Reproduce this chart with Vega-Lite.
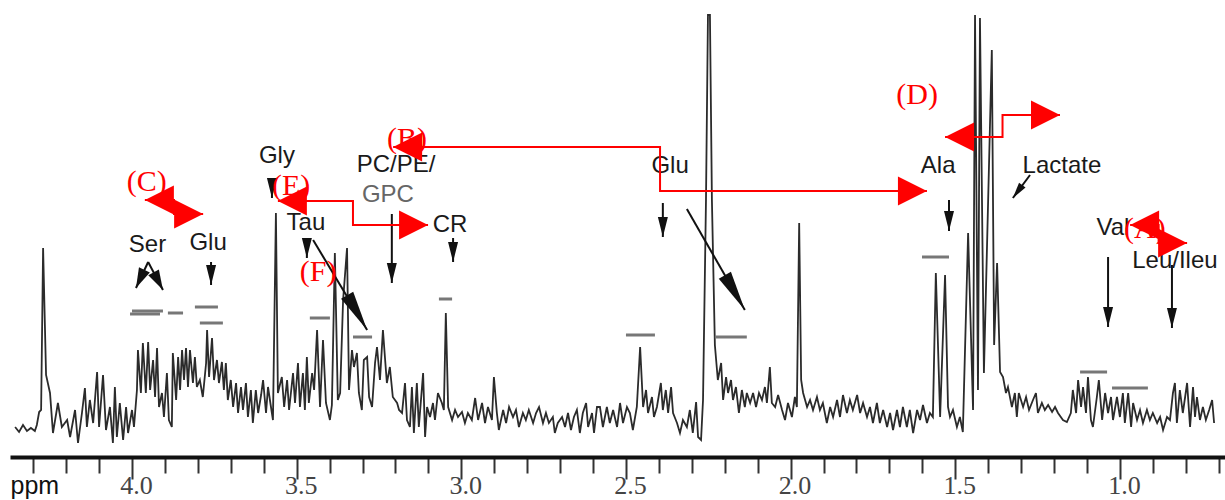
{
"$schema": "https://vega.github.io/schema/vega-lite/v6.json",
"width": 1215, "height": 455,
"autosize": {"type": "none"},
"padding": {"left": 10, "top": 0, "right": 0, "bottom": 45},
"background": "white",
"config": {"view": {"stroke": null}, "font": "Liberation Sans"},
"datasets": {
"spectrum": [
{"ppm":4.355,"intensity":28},{"ppm":4.343,"intensity":23},{"ppm":4.331,"intensity":30},{"ppm":4.319,"intensity":24},{"ppm":4.307,"intensity":27},{"ppm":4.295,"intensity":24},{"ppm":4.289,"intensity":30},{"ppm":4.282,"intensity":43},{"ppm":4.276,"intensity":45},{"ppm":4.270,"intensity":207},{"ppm":4.261,"intensity":80},{"ppm":4.249,"intensity":62},{"ppm":4.240,"intensity":22},{"ppm":4.225,"intensity":52},{"ppm":4.213,"intensity":28},{"ppm":4.197,"intensity":35},{"ppm":4.188,"intensity":18},{"ppm":4.173,"intensity":45},{"ppm":4.164,"intensity":12},{"ppm":4.152,"intensity":42},{"ppm":4.143,"intensity":67},{"ppm":4.137,"intensity":28},{"ppm":4.128,"intensity":55},{"ppm":4.118,"intensity":32},{"ppm":4.106,"intensity":83},{"ppm":4.100,"intensity":28},
{"ppm":4.088,"intensity":80},{"ppm":4.079,"intensity":25},{"ppm":4.067,"intensity":48},{"ppm":4.058,"intensity":12},{"ppm":4.052,"intensity":68},{"ppm":4.046,"intensity":18},{"ppm":4.037,"intensity":52},{"ppm":4.027,"intensity":15},{"ppm":4.018,"intensity":48},{"ppm":4.012,"intensity":22},{"ppm":4.000,"intensity":45},{"ppm":3.994,"intensity":28},{"ppm":3.985,"intensity":65},{"ppm":3.982,"intensity":105},{"ppm":3.973,"intensity":62},{"ppm":3.967,"intensity":112},{"ppm":3.958,"intensity":62},{"ppm":3.951,"intensity":113},{"ppm":3.945,"intensity":65},{"ppm":3.936,"intensity":95},{"ppm":3.930,"intensity":58},{"ppm":3.924,"intensity":107},{"ppm":3.918,"intensity":48},{"ppm":3.909,"intensity":62},{"ppm":3.903,"intensity":38},{"ppm":3.894,"intensity":82},{"ppm":3.888,"intensity":35},{"ppm":3.879,"intensity":28},{"ppm":3.876,"intensity":102},{"ppm":3.866,"intensity":55},{"ppm":3.860,"intensity":98},{"ppm":3.854,"intensity":65},{"ppm":3.848,"intensity":105},{"ppm":3.842,"intensity":75},{"ppm":3.836,"intensity":107},{"ppm":3.830,"intensity":68},{"ppm":3.824,"intensity":105},{"ppm":3.815,"intensity":72},{"ppm":3.809,"intensity":98},{"ppm":3.803,"intensity":68},
{"ppm":3.794,"intensity":75},{"ppm":3.785,"intensity":58},{"ppm":3.775,"intensity":92},{"ppm":3.772,"intensity":125},{"ppm":3.766,"intensity":78},{"ppm":3.757,"intensity":117},{"ppm":3.751,"intensity":75},{"ppm":3.742,"intensity":95},{"ppm":3.736,"intensity":72},{"ppm":3.727,"intensity":93},{"ppm":3.721,"intensity":65},{"ppm":3.715,"intensity":92},{"ppm":3.709,"intensity":55},{"ppm":3.700,"intensity":75},{"ppm":3.693,"intensity":48},{"ppm":3.684,"intensity":72},{"ppm":3.678,"intensity":42},{"ppm":3.669,"intensity":68},{"ppm":3.663,"intensity":45},{"ppm":3.654,"intensity":72},{"ppm":3.648,"intensity":38},{"ppm":3.639,"intensity":65},{"ppm":3.633,"intensity":32},{"ppm":3.624,"intensity":65},{"ppm":3.617,"intensity":42},{"ppm":3.608,"intensity":60},{"ppm":3.602,"intensity":75},{"ppm":3.593,"intensity":42},{"ppm":3.587,"intensity":68},{"ppm":3.578,"intensity":48},{"ppm":3.572,"intensity":35},{"ppm":3.563,"intensity":242},{"ppm":3.557,"intensity":62},{"ppm":3.545,"intensity":78},{"ppm":3.538,"intensity":48},{"ppm":3.529,"intensity":75},{"ppm":3.523,"intensity":45},{"ppm":3.511,"intensity":82},{"ppm":3.505,"intensity":52},{"ppm":3.496,"intensity":92},
{"ppm":3.490,"intensity":48},{"ppm":3.481,"intensity":82},{"ppm":3.475,"intensity":45},{"ppm":3.469,"intensity":98},{"ppm":3.463,"intensity":52},{"ppm":3.453,"intensity":82},{"ppm":3.447,"intensity":65},{"ppm":3.438,"intensity":125},{"ppm":3.429,"intensity":48},{"ppm":3.420,"intensity":115},{"ppm":3.411,"intensity":52},{"ppm":3.399,"intensity":35},{"ppm":3.393,"intensity":50},{"ppm":3.384,"intensity":202},{"ppm":3.375,"intensity":55},{"ppm":3.368,"intensity":62},{"ppm":3.359,"intensity":155},{"ppm":3.347,"intensity":207},{"ppm":3.341,"intensity":65},{"ppm":3.332,"intensity":105},{"ppm":3.326,"intensity":88},{"ppm":3.317,"intensity":102},{"ppm":3.311,"intensity":62},{"ppm":3.302,"intensity":45},{"ppm":3.296,"intensity":95},{"ppm":3.286,"intensity":98},{"ppm":3.280,"intensity":58},{"ppm":3.271,"intensity":48},{"ppm":3.262,"intensity":92},{"ppm":3.256,"intensity":108},{"ppm":3.247,"intensity":75},{"ppm":3.238,"intensity":125},{"ppm":3.232,"intensity":98},{"ppm":3.226,"intensity":72},{"ppm":3.217,"intensity":88},{"ppm":3.208,"intensity":58},{"ppm":3.195,"intensity":52},{"ppm":3.189,"intensity":45},
{"ppm":3.180,"intensity":42},{"ppm":3.171,"intensity":72},{"ppm":3.165,"intensity":35},{"ppm":3.156,"intensity":28},{"ppm":3.150,"intensity":68},{"ppm":3.144,"intensity":22},{"ppm":3.135,"intensity":72},{"ppm":3.129,"intensity":28},{"ppm":3.116,"intensity":82},{"ppm":3.110,"intensity":18},{"ppm":3.104,"intensity":48},{"ppm":3.095,"intensity":38},{"ppm":3.086,"intensity":52},{"ppm":3.080,"intensity":35},{"ppm":3.071,"intensity":62},{"ppm":3.059,"intensity":52},{"ppm":3.053,"intensity":45},{"ppm":3.047,"intensity":142},{"ppm":3.040,"intensity":48},{"ppm":3.028,"intensity":35},{"ppm":3.019,"intensity":45},{"ppm":3.010,"intensity":38},{"ppm":2.998,"intensity":43},{"ppm":2.989,"intensity":32},{"ppm":2.980,"intensity":42},{"ppm":2.968,"intensity":35},{"ppm":2.958,"intensity":57},{"ppm":2.949,"intensity":35},{"ppm":2.937,"intensity":52},{"ppm":2.928,"intensity":32},{"ppm":2.919,"intensity":48},{"ppm":2.907,"intensity":35},{"ppm":2.901,"intensity":78},{"ppm":2.892,"intensity":42},{"ppm":2.886,"intensity":25},
{"ppm":2.873,"intensity":45},{"ppm":2.864,"intensity":32},{"ppm":2.855,"intensity":48},{"ppm":2.843,"intensity":38},{"ppm":2.834,"intensity":45},{"ppm":2.825,"intensity":28},{"ppm":2.813,"intensity":42},{"ppm":2.804,"intensity":35},{"ppm":2.795,"intensity":45},{"ppm":2.782,"intensity":32},{"ppm":2.773,"intensity":42},{"ppm":2.764,"intensity":48},{"ppm":2.752,"intensity":32},{"ppm":2.743,"intensity":42},{"ppm":2.734,"intensity":32},{"ppm":2.722,"intensity":38},{"ppm":2.716,"intensity":22},{"ppm":2.707,"intensity":32},{"ppm":2.694,"intensity":38},{"ppm":2.685,"intensity":28},{"ppm":2.676,"intensity":42},{"ppm":2.667,"intensity":25},{"ppm":2.658,"intensity":38},{"ppm":2.649,"intensity":45},{"ppm":2.640,"intensity":22},{"ppm":2.631,"intensity":42},{"ppm":2.621,"intensity":52},{"ppm":2.615,"intensity":28},{"ppm":2.603,"intensity":42},{"ppm":2.597,"intensity":22},{"ppm":2.588,"intensity":48},
{"ppm":2.579,"intensity":48},{"ppm":2.570,"intensity":28},{"ppm":2.558,"intensity":48},{"ppm":2.549,"intensity":32},{"ppm":2.539,"intensity":45},{"ppm":2.527,"intensity":28},{"ppm":2.518,"intensity":52},{"ppm":2.509,"intensity":32},{"ppm":2.497,"intensity":48},{"ppm":2.488,"intensity":42},{"ppm":2.479,"intensity":25},{"ppm":2.467,"intensity":48},{"ppm":2.457,"intensity":108},{"ppm":2.448,"intensity":48},{"ppm":2.439,"intensity":65},{"ppm":2.433,"intensity":42},{"ppm":2.421,"intensity":58},{"ppm":2.415,"intensity":38},{"ppm":2.406,"intensity":48},{"ppm":2.394,"intensity":72},{"ppm":2.388,"intensity":45},{"ppm":2.379,"intensity":65},{"ppm":2.372,"intensity":42},{"ppm":2.363,"intensity":68},{"ppm":2.357,"intensity":42},{"ppm":2.345,"intensity":32},{"ppm":2.336,"intensity":22},{"ppm":2.327,"intensity":35},{"ppm":2.315,"intensity":28},{"ppm":2.306,"intensity":45},{"ppm":2.297,"intensity":22},{"ppm":2.287,"intensity":53},{"ppm":2.281,"intensity":18},
{"ppm":2.272,"intensity":15},{"ppm":2.266,"intensity":55},{"ppm":2.257,"intensity":255},{"ppm":2.251,"intensity":440},{"ppm":2.245,"intensity":440},{"ppm":2.239,"intensity":255},{"ppm":2.230,"intensity":110},{"ppm":2.221,"intensity":75},{"ppm":2.211,"intensity":92},{"ppm":2.205,"intensity":55},{"ppm":2.196,"intensity":78},{"ppm":2.190,"intensity":62},{"ppm":2.181,"intensity":75},{"ppm":2.175,"intensity":55},{"ppm":2.166,"intensity":68},{"ppm":2.157,"intensity":42},{"ppm":2.148,"intensity":65},{"ppm":2.139,"intensity":48},{"ppm":2.133,"intensity":62},{"ppm":2.123,"intensity":52},{"ppm":2.114,"intensity":62},{"ppm":2.105,"intensity":48},{"ppm":2.096,"intensity":62},{"ppm":2.087,"intensity":55},{"ppm":2.078,"intensity":68},{"ppm":2.072,"intensity":52},{"ppm":2.063,"intensity":88},{"ppm":2.057,"intensity":52},{"ppm":2.047,"intensity":48},{"ppm":2.038,"intensity":60},{"ppm":2.026,"intensity":45},{"ppm":2.017,"intensity":35},{"ppm":2.008,"intensity":52},{"ppm":1.996,"intensity":38},{"ppm":1.987,"intensity":58},{"ppm":1.981,"intensity":48},
{"ppm":1.974,"intensity":232},{"ppm":1.968,"intensity":75},{"ppm":1.962,"intensity":62},{"ppm":1.950,"intensity":48},{"ppm":1.941,"intensity":55},{"ppm":1.932,"intensity":45},{"ppm":1.920,"intensity":58},{"ppm":1.911,"intensity":45},{"ppm":1.902,"intensity":52},{"ppm":1.890,"intensity":32},{"ppm":1.880,"intensity":48},{"ppm":1.871,"intensity":38},{"ppm":1.859,"intensity":55},{"ppm":1.850,"intensity":38},{"ppm":1.841,"intensity":60},{"ppm":1.829,"intensity":42},{"ppm":1.820,"intensity":55},{"ppm":1.811,"intensity":45},{"ppm":1.798,"intensity":60},{"ppm":1.789,"intensity":42},{"ppm":1.780,"intensity":52},{"ppm":1.768,"intensity":38},{"ppm":1.759,"intensity":48},{"ppm":1.750,"intensity":32},{"ppm":1.738,"intensity":52},{"ppm":1.729,"intensity":32},{"ppm":1.719,"intensity":45},{"ppm":1.707,"intensity":28},{"ppm":1.698,"intensity":42},{"ppm":1.689,"intensity":25},{"ppm":1.677,"intensity":45},
{"ppm":1.668,"intensity":28},{"ppm":1.659,"intensity":48},{"ppm":1.647,"intensity":28},{"ppm":1.638,"intensity":45},{"ppm":1.628,"intensity":22},{"ppm":1.616,"intensity":45},{"ppm":1.607,"intensity":35},{"ppm":1.598,"intensity":50},{"ppm":1.586,"intensity":32},{"ppm":1.577,"intensity":42},{"ppm":1.568,"intensity":38},{"ppm":1.559,"intensity":182},{"ppm":1.546,"intensity":38},{"ppm":1.531,"intensity":180},{"ppm":1.522,"intensity":48},{"ppm":1.516,"intensity":38},{"ppm":1.507,"intensity":45},{"ppm":1.495,"intensity":28},{"ppm":1.486,"intensity":38},{"ppm":1.477,"intensity":23},{"ppm":1.461,"intensity":222},{"ppm":1.446,"intensity":45},{"ppm":1.440,"intensity":440},{"ppm":1.431,"intensity":65},{"ppm":1.425,"intensity":437},{"ppm":1.413,"intensity":82},{"ppm":1.389,"intensity":405},{"ppm":1.382,"intensity":110},{"ppm":1.373,"intensity":192},
{"ppm":1.364,"intensity":83},{"ppm":1.355,"intensity":78},{"ppm":1.346,"intensity":62},{"ppm":1.340,"intensity":68},{"ppm":1.328,"intensity":48},{"ppm":1.319,"intensity":62},{"ppm":1.313,"intensity":38},{"ppm":1.307,"intensity":62},{"ppm":1.294,"intensity":48},{"ppm":1.285,"intensity":58},{"ppm":1.276,"intensity":45},{"ppm":1.264,"intensity":55},{"ppm":1.255,"intensity":62},{"ppm":1.249,"intensity":42},{"ppm":1.237,"intensity":52},{"ppm":1.228,"intensity":45},{"ppm":1.218,"intensity":50},{"ppm":1.206,"intensity":43},{"ppm":1.197,"intensity":48},{"ppm":1.188,"intensity":42},{"ppm":1.173,"intensity":35},{"ppm":1.161,"intensity":33},{"ppm":1.149,"intensity":42},{"ppm":1.143,"intensity":65},{"ppm":1.133,"intensity":42},{"ppm":1.127,"intensity":75},{"ppm":1.118,"intensity":48},{"ppm":1.112,"intensity":68},{"ppm":1.103,"intensity":42},{"ppm":1.097,"intensity":78},{"ppm":1.088,"intensity":35},{"ppm":1.082,"intensity":28},{"ppm":1.070,"intensity":58},{"ppm":1.064,"intensity":75},
{"ppm":1.054,"intensity":35},{"ppm":1.045,"intensity":62},{"ppm":1.036,"intensity":42},{"ppm":1.027,"intensity":58},{"ppm":1.021,"intensity":35},{"ppm":1.009,"intensity":58},{"ppm":1.000,"intensity":38},{"ppm":0.991,"intensity":62},{"ppm":0.985,"intensity":32},{"ppm":0.975,"intensity":62},{"ppm":0.966,"intensity":28},{"ppm":0.960,"intensity":52},{"ppm":0.948,"intensity":35},{"ppm":0.939,"intensity":45},{"ppm":0.930,"intensity":32},{"ppm":0.918,"intensity":45},{"ppm":0.909,"intensity":35},{"ppm":0.900,"intensity":42},{"ppm":0.887,"intensity":32},{"ppm":0.878,"intensity":38},{"ppm":0.869,"intensity":25},{"ppm":0.857,"intensity":38},{"ppm":0.848,"intensity":35},{"ppm":0.839,"intensity":62},{"ppm":0.833,"intensity":72},{"ppm":0.827,"intensity":32},{"ppm":0.818,"intensity":65},{"ppm":0.809,"intensity":42},{"ppm":0.802,"intensity":58},{"ppm":0.796,"intensity":72},{"ppm":0.787,"intensity":28},{"ppm":0.778,"intensity":68},{"ppm":0.772,"intensity":38},{"ppm":0.766,"intensity":58},{"ppm":0.757,"intensity":35},{"ppm":0.748,"intensity":48},{"ppm":0.739,"intensity":35},{"ppm":0.729,"intensity":45},{"ppm":0.720,"intensity":55},{"ppm":0.714,"intensity":32}
],
"dashes": [
{"ppm":4.000,"ppm_end":3.906,"intensity":144},{"ppm":4.006,"ppm_end":3.915,"intensity":141},{"ppm":3.891,"ppm_end":3.845,"intensity":142},{"ppm":3.809,"ppm_end":3.739,"intensity":148},{"ppm":3.794,"ppm_end":3.724,"intensity":132},{"ppm":3.460,"ppm_end":3.399,"intensity":137},{"ppm":3.329,"ppm_end":3.271,"intensity":118},{"ppm":3.068,"ppm_end":3.028,"intensity":156},{"ppm":2.500,"ppm_end":2.412,"intensity":120},{"ppm":2.230,"ppm_end":2.133,"intensity":118},{"ppm":1.601,"ppm_end":1.519,"intensity":198},{"ppm":1.121,"ppm_end":1.039,"intensity":83},{"ppm":1.024,"ppm_end":0.915,"intensity":67}
],
"arrows": [
{"name":"SerL","ppm":3.988,"intensity":167,"ppm_tail":3.951,"intensity_tail":193},
{"name":"SerR","ppm":3.906,"intensity":165,"ppm_tail":3.951,"intensity_tail":193},
{"name":"GluL","ppm":3.760,"intensity":170,"ppm_tail":3.760,"intensity_tail":193},
{"name":"Gly","ppm":3.575,"intensity":257,"ppm_tail":3.575,"intensity_tail":277},
{"name":"TauS","ppm":3.469,"intensity":197,"ppm_tail":3.469,"intensity_tail":213},
{"name":"TauD","ppm":3.286,"intensity":125,"ppm_tail":3.450,"intensity_tail":215},
{"name":"PC","ppm":3.211,"intensity":172,"ppm_tail":3.211,"intensity_tail":241},
{"name":"CR","ppm":3.025,"intensity":193,"ppm_tail":3.025,"intensity_tail":217},
{"name":"GluM","ppm":2.388,"intensity":218,"ppm_tail":2.388,"intensity_tail":252},
{"name":"GluD","ppm":2.139,"intensity":145,"ppm_tail":2.315,"intensity_tail":246},
{"name":"Ala","ppm":1.519,"intensity":224,"ppm_tail":1.519,"intensity_tail":255},
{"name":"Lac","ppm":1.325,"intensity":257,"ppm_tail":1.273,"intensity_tail":280},
{"name":"Val","ppm":1.036,"intensity":128,"ppm_tail":1.036,"intensity_tail":198},
{"name":"Leu","ppm":0.842,"intensity":127,"ppm_tail":0.842,"intensity_tail":190}
],
"labels": [
{"label":"Ser","ppm":3.953,"intensity":203},{"label":"Glu","ppm":3.769,"intensity":205},{"label":"Gly","ppm":3.560,"intensity":292},{"label":"Tau","ppm":3.472,"intensity":225},{"label":"PC/PE/","ppm":3.198,"intensity":283},{"label":"GPC","ppm":3.223,"intensity":253},{"label":"CR","ppm":3.034,"intensity":223},{"label":"Glu","ppm":2.366,"intensity":282},{"label":"Ala","ppm":1.552,"intensity":282},{"label":"Lactate","ppm":1.176,"intensity":282},{"label":"Val","ppm":1.021,"intensity":220},{"label":"Leu/Ileu","ppm":0.833,"intensity":187}
],
"connectors": [
{"id":"C","end":"left","ppm":3.961,"intensity":255},{"id":"C","end":"right","ppm":3.784,"intensity":241},
{"id":"B","end":"left","ppm":3.207,"intensity":308},{"id":"B","end":"right","ppm":1.586,"intensity":264},
{"id":"E","end":"left","ppm":3.557,"intensity":254},{"id":"E","end":"right","ppm":3.101,"intensity":230},
{"id":"D","end":"left","ppm":1.531,"intensity":318},{"id":"D","end":"right","ppm":1.182,"intensity":340},
{"id":"A","end":"left","ppm":0.969,"intensity":230},{"id":"A","end":"right","ppm":0.796,"intensity":212}
],
"redLabels": [
{"label":"(C)","ppm":3.955,"intensity":264},{"label":"(E)","ppm":3.517,"intensity":260},{"label":"(B)","ppm":3.165,"intensity":307},{"label":"(F)","ppm":3.435,"intensity":174},{"label":"(D)","ppm":1.616,"intensity":351},{"label":"(A)","ppm":0.924,"intensity":217}
]
},
"encoding": {
"x": {"field": "ppm", "type": "quantitative",
 "scale": {"domain": [0.6809, 4.3705], "reverse": true, "nice": false, "zero": false},
 "axis": {"title": "ppm", "offset": 2, "grid": false,
  "values": [4.3,4.2,4.1,4.0,3.9,3.8,3.7,3.6,3.5,3.4,3.3,3.2,3.1,3.0,2.9,2.8,2.7,2.6,2.5,2.4,2.3,2.2,2.1,2.0,1.9,1.8,1.7,1.6,1.5,1.4,1.3,1.2,1.1,1.0,0.9,0.8,0.7],
  "labelExpr": "abs(datum.value*2 - round(datum.value*2)) < 0.001 ? format(datum.value, '.1f') : ''",
  "tickSize": {"condition": {"test": "abs(datum.value*2 - round(datum.value*2)) < 0.001", "value": 22}, "value": 16},
  "tickWidth": 2, "tickColor": "#333", "domainWidth": 4, "domainColor": "#111",
  "labelFont": "Liberation Serif", "labelFontSize": 26, "labelColor": "#444",
  "labelOffset": 4, "labelPadding": -7, "labelOverlap": false, "labelFlush": false, "labelBaseline": "top",
  "titleFont": "Liberation Sans", "titleFontSize": 25, "titleFontWeight": "normal", "titleColor": "#111",
  "titleAnchor": "start", "titleAlign": "left", "titleBaseline": "alphabetic", "titleX": 0, "titleY": 36}},
"y": {"field": "intensity", "type": "quantitative", "scale": {"domain": [0, 455], "nice": false, "zero": false}, "axis": null}
},
"layer": [
{"data": {"name": "spectrum"}, "mark": {"type": "line", "color": "#2b2b2b", "strokeWidth": 1.8}},
{"data": {"name": "dashes"}, "mark": {"type": "rule", "color": "#777", "strokeWidth": 3},
 "encoding": {"x2": {"field": "ppm_end"}}},
{"data": {"name": "arrows"}, "mark": {"type": "rule", "color": "#111", "strokeWidth": 2},
 "encoding": {"x2": {"field": "ppm_tail"}, "y2": {"field": "intensity_tail"}}},
{"data": {"name": "arrows"}, "transform": [{"filter": "indexof(['GluL','Gly','TauS','PC','CR','GluM','Ala','Val','Leu'], datum.name) >= 0"}],
 "mark": {"type": "point", "shape": "M0,0L-0.5,-2L0.5,-2Z", "size": 400, "filled": true, "color": "#111", "opacity": 1}},
{"data": {"name": "arrows"}, "transform": [{"filter": "datum.name == 'SerL'"}],
 "mark": {"type": "point", "shape": "M0,0L-0.6,-2L0.6,-2Z", "size": 400, "filled": true, "color": "#111", "opacity": 1, "angle": 25}},
{"data": {"name": "arrows"}, "transform": [{"filter": "datum.name == 'SerR'"}],
 "mark": {"type": "point", "shape": "M0,0L-0.6,-2L0.6,-2Z", "size": 400, "filled": true, "color": "#111", "opacity": 1, "angle": 332}},
{"data": {"name": "arrows"}, "transform": [{"filter": "datum.name == 'TauD' || datum.name == 'GluD'"}],
 "mark": {"type": "point", "shape": "M0,0L-0.35,-2L0.35,-2Z", "size": 1600, "filled": true, "color": "#111", "opacity": 1, "angle": 330}},
{"data": {"name": "arrows"}, "transform": [{"filter": "datum.name == 'Lac'"}],
 "mark": {"type": "point", "shape": "M0,0L-0.5,-2L0.5,-2Z", "size": 256, "filled": true, "color": "#111", "opacity": 1, "angle": 36}},
{"data": {"name": "labels"}, "mark": {"type": "text", "font": "Liberation Sans", "fontSize": 24, "align": "center", "baseline": "alphabetic"},
 "encoding": {"text": {"field": "label"}, "color": {"condition": {"test": "datum.label === 'GPC'", "value": "#666"}, "value": "#1a1a1a"}}},
{"data": {"name": "connectors"}, "mark": {"type": "line", "color": "#ff0000", "strokeWidth": 2, "interpolate": "step"},
 "encoding": {"detail": {"field": "id"}}},
{"data": {"name": "connectors"}, "transform": [{"filter": "datum.end == 'left'"}],
 "mark": {"type": "point", "shape": "M0,0L2,-1L2,1Z", "size": 841, "filled": true, "color": "#ff0000", "opacity": 1}},
{"data": {"name": "connectors"}, "transform": [{"filter": "datum.end == 'right'"}],
 "mark": {"type": "point", "shape": "M0,0L-2,-1L-2,1Z", "size": 841, "filled": true, "color": "#ff0000", "opacity": 1}},
{"data": {"name": "redLabels"}, "mark": {"type": "text", "font": "Liberation Serif", "fontSize": 30, "color": "#ff0000", "align": "center", "baseline": "alphabetic"},
 "encoding": {"text": {"field": "label"}}}
]
}
